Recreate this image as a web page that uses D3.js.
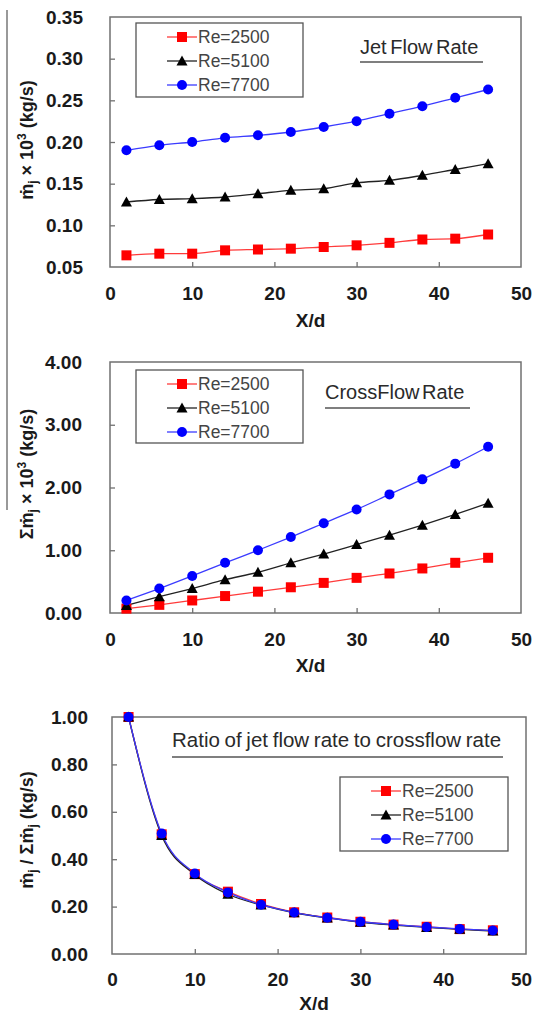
<html>
<head>
<style>
  body { margin: 0; background: #fff; }
  text { font-family: "Liberation Sans", Arial, sans-serif; }
  .tick text { font-size: 19px; font-weight: bold; fill: #1a1a1a; }
  .tick line { stroke: #707070; stroke-width: 1.3; }
</style>
<script src="https://d3js.org/d3.v7.min.js"></script>
</head>
<body>
<svg id="fig" width="535" height="1015"></svg>
<script>
// X/d stations
var xd = [2, 6, 10, 14, 18, 22, 26, 30, 34, 38, 42, 46];

// jet flow rate x 10^3 (kg/s)
var jet2500 = [0.064, 0.066, 0.066, 0.070, 0.071, 0.072, 0.074, 0.076, 0.079, 0.083, 0.084, 0.089];
var jet5100 = [0.128, 0.131, 0.132, 0.134, 0.138, 0.142, 0.144, 0.151, 0.154, 0.160, 0.167, 0.174];
var jet7700 = [0.190, 0.196, 0.200, 0.205, 0.208, 0.212, 0.218, 0.225, 0.234, 0.243, 0.253, 0.263];

// crossflow rate x 10^3 (kg/s)
var cross2500 = [0.07, 0.13, 0.20, 0.27, 0.34, 0.41, 0.48, 0.56, 0.63, 0.71, 0.80, 0.88];
var cross5100 = [0.12, 0.26, 0.39, 0.53, 0.65, 0.80, 0.94, 1.09, 1.24, 1.40, 1.57, 1.75];
var cross7700 = [0.20, 0.39, 0.59, 0.80, 1.00, 1.21, 1.43, 1.65, 1.89, 2.13, 2.38, 2.65];

// ratio of jet flow rate to crossflow rate
var ratio2500 = [1.00, 0.505, 0.337, 0.263, 0.211, 0.176, 0.154, 0.136, 0.124, 0.115, 0.105, 0.100];
var ratio5100 = [1.00, 0.500, 0.335, 0.252, 0.207, 0.174, 0.152, 0.134, 0.122, 0.112, 0.104, 0.097];
var ratio7700 = [1.00, 0.508, 0.340, 0.260, 0.208, 0.175, 0.153, 0.136, 0.124, 0.114, 0.106, 0.099];

var seriesNames = ["Re=2500", "Re=5100", "Re=7700"];
var markers = ["square", "triangle", "circle"];
var markColors = ["#ff0000", "#000000", "#0000ff"];
var lineColors = ["#ff3b3b", "#222222", "#3b3bff"];

var xTicks = [0, 10, 20, 30, 40, 50];

var svg = d3.select("#fig");

// stray vertical rule at the far left of the figure
svg.append("line").attr("x1", 7).attr("x2", 7).attr("y1", 10).attr("y2", 510)
   .attr("stroke", "#777").attr("stroke-width", 1.5);

function marker(g, type, color) {
  if (type == "square") {
    g.append("rect").attr("x", -5).attr("y", -5).attr("width", 10).attr("height", 10).attr("fill", color);
  } else if (type == "triangle") {
    g.append("path").attr("d", "M0,-5.5L5.5,4.5L-5.5,4.5Z").attr("fill", color);
  } else {
    g.append("circle").attr("r", 5).attr("fill", color);
  }
}

function drawChart(c) {
  var g = svg.append("g");
  var x = d3.scaleLinear().domain([0, 50]).range([c.left, c.right]);
  var y = d3.scaleLinear().domain(c.ydomain).range([c.bottom, c.top]);

  // frame
  g.append("rect").attr("x", c.left).attr("y", c.top)
   .attr("width", c.right - c.left).attr("height", c.bottom - c.top)
   .attr("fill", "none").attr("stroke", "#707070").attr("stroke-width", 1.5);

  var ya = g.append("g").attr("transform", "translate(" + c.left + ",0)")
    .call(d3.axisLeft(y).tickValues(c.yticks).tickFormat(d3.format(c.yfmt)).tickSize(-5).tickPadding(c.ypad));
  ya.select(".domain").remove();
  var xa = g.append("g").attr("transform", "translate(0," + c.bottom + ")")
    .call(d3.axisBottom(x).tickValues(xTicks).tickFormat(d3.format("d")).tickSize(-5).tickPadding(c.xpad));
  xa.select(".domain").remove();
  xa.selectAll(".tick line").filter(function(d) { return d == 0 || d == 50; }).remove();
  xa.selectAll(".tick text").filter(function(d) { return d == 50; }).attr("dx", c.lastDx || 0);
  ya.selectAll(".tick line").filter(function(d, i) { return i == 0 || i == c.yticks.length - 1; }).remove();

  // axis titles
  g.append("text").attr("x", (c.left + c.right) / 2 - 5).attr("y", c.bottom + c.xlabDy)
   .attr("text-anchor", "middle").attr("font-size", 19).attr("font-weight", "bold").attr("fill", "#1a1a1a")
   .text("X/d");
  var yl = g.append("text").attr("transform", "translate(" + c.ylabX + "," + c.ylabY + ") rotate(-90)")
   .attr("text-anchor", "middle").attr("font-size", 18).attr("font-weight", "bold").attr("fill", "#1a1a1a");
  c.ylabel(yl);

  // series
  var line = d3.line().x(function(d) { return x(d[0]); }).y(function(d) { return y(d[1]); })
    .curve(d3.curveMonotoneX);
  c.data.forEach(function(vals, s) {
    var pts = xd.map(function(v, i) { return [v, vals[i]]; });
    g.append("path").attr("d", line(pts)).attr("fill", "none")
     .attr("stroke", lineColors[s]).attr("stroke-width", 1.3);
  });
  c.data.forEach(function(vals, s) {
    xd.forEach(function(v, i) {
      var m = g.append("g").attr("transform", "translate(" + x(v) + "," + y(vals[i]) + ")");
      marker(m, markers[s], markColors[s]);
    });
  });

  // chart title with underline
  g.append("text").attr("x", c.title.x).attr("y", c.title.y).attr("font-size", c.title.size)
   .attr("fill", "#2a2a2a").attr("word-spacing", c.title.ws || 0).text(c.title.text);
  g.append("line").attr("x1", c.title.x).attr("x2", c.title.x2)
   .attr("y1", c.title.uy).attr("y2", c.title.uy).attr("stroke", "#555").attr("stroke-width", 1.5);

  // legend
  var L = c.legend;
  g.append("rect").attr("x", L.x).attr("y", L.y).attr("width", L.w).attr("height", L.h)
   .attr("fill", "#fff").attr("stroke", "#555").attr("stroke-width", 1.3);
  seriesNames.forEach(function(name, s) {
    var ry = L.y + 14 + s * 24;
    g.append("line").attr("x1", L.x + 31).attr("x2", L.x + 61).attr("y1", ry).attr("y2", ry)
     .attr("stroke", lineColors[s]).attr("stroke-width", 1.3);
    var m = g.append("g").attr("transform", "translate(" + (L.x + 46) + "," + ry + ")");
    marker(m, markers[s], markColors[s]);
    g.append("text").attr("x", L.x + 62).attr("y", ry + 6).attr("font-size", 17.5)
     .attr("fill", "#444").text(name);
  });
}

function tspans(t, parts) {
  parts.forEach(function(p) {
    var ts = t.append("tspan").text(p[0]);
    if (p[1] == "sub") ts.attr("font-size", 12).attr("dy", 4);
    if (p[1] == "up") ts.attr("dy", -4);
    if (p[1] == "sup") ts.attr("font-size", 12).attr("dy", -7);
    if (p[1] == "down") ts.attr("dy", 7);
  });
}

drawChart({
  left: 110, right: 521, top: 17, bottom: 267,
  ydomain: [0.05, 0.35], yticks: [0.05, 0.10, 0.15, 0.20, 0.25, 0.30, 0.35], yfmt: ".2f",
  ypad: 27, xpad: 20, xlabDy: 60, ylabX: 33, ylabY: 140,
  ylabel: function(t) { tspans(t, [["ṁ"], ["j", "sub"], [" × 10", "up"], ["3", "sup"], [" (kg/s)", "down"]]); },
  data: [jet2500, jet5100, jet7700],
  title: { text: "Jet Flow Rate", x: 360, x2: 483, y: 54, uy: 62, size: 20, ws: -2 },
  legend: { x: 136, y: 23, w: 167, h: 74 }
});

drawChart({
  left: 110, right: 521, top: 362, bottom: 613,
  ydomain: [0, 4], yticks: [0, 1, 2, 3, 4], yfmt: ".2f",
  ypad: 28, xpad: 20, xlabDy: 59, ylabX: 33, ylabY: 474,
  ylabel: function(t) { tspans(t, [["Σṁ"], ["j", "sub"], [" × 10", "up"], ["3", "sup"], [" (kg/s)", "down"]]); },
  data: [cross2500, cross5100, cross7700],
  title: { text: "CrossFlow Rate", x: 325, x2: 470, y: 399, uy: 408, size: 20, ws: -3 },
  legend: { x: 136, y: 370, w: 167, h: 73 }
});

drawChart({
  left: 112, right: 526, top: 717, bottom: 954,
  ydomain: [0, 1], yticks: [0, 0.2, 0.4, 0.6, 0.8, 1.0], yfmt: ".2f",
  ypad: 24, xpad: 19, xlabDy: 56, lastDx: -5, ylabX: 33, ylabY: 830,
  ylabel: function(t) { tspans(t, [["ṁ"], ["j", "sub"], [" / Σṁ", "up"], ["j", "sub"], [" (kg/s)", "up"]]); },
  data: [ratio2500, ratio5100, ratio7700],
  title: { text: "Ratio of jet flow rate to crossflow rate", x: 172, x2: 503, y: 747, uy: 757, size: 20.5, ws: -1 },
  legend: { x: 340, y: 777, w: 168, h: 74 }
});
</script>
</body>
</html>
